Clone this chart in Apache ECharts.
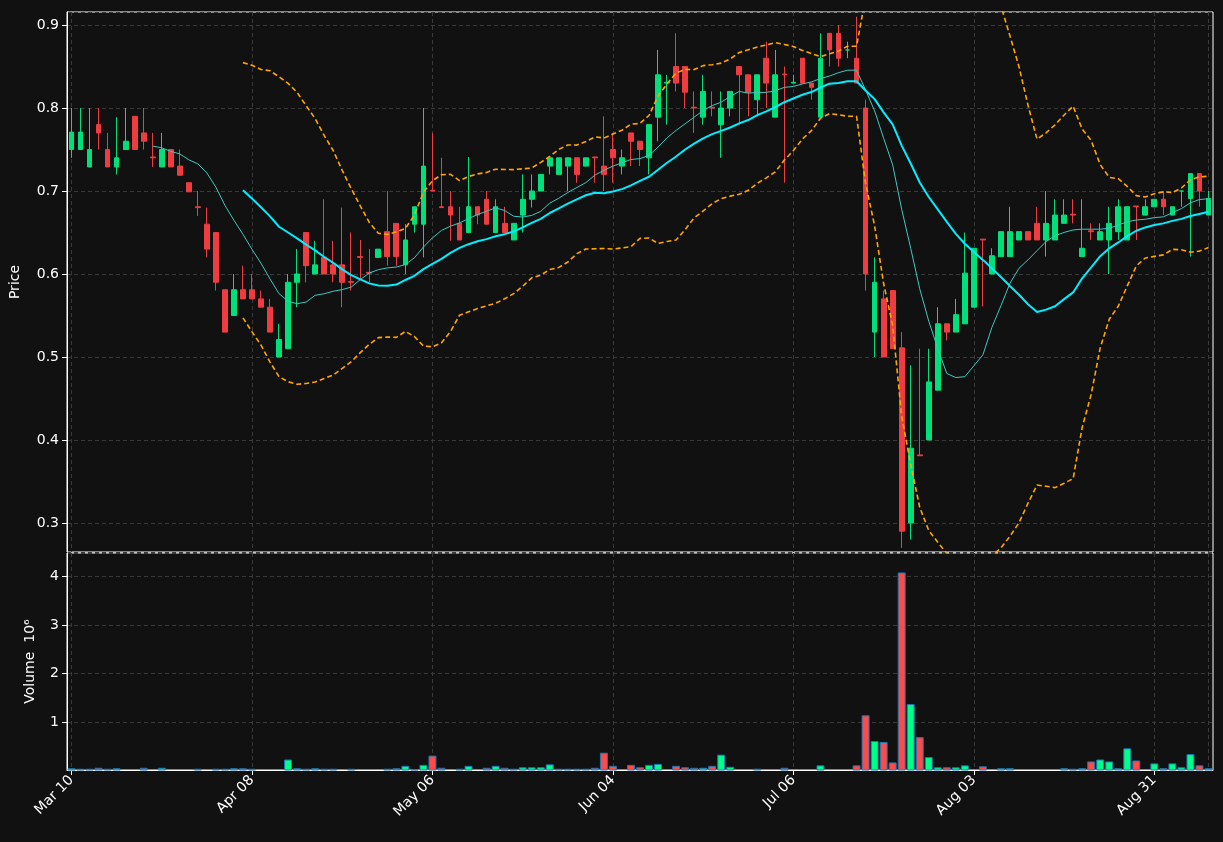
<!DOCTYPE html>
<html>
<head>
<meta charset="utf-8">
<script src="https://cdn.jsdelivr.net/npm/echarts@6/dist/echarts.min.js"></script>
<style>
  html, body { margin: 0; padding: 0; background: #111111; }
  #chart { width: 1223px; height: 842px; }
</style>
</head>
<body>
<div id="chart"></div>
<script>
const dates = [
  "Mar 10","Mar 11","Mar 12","Mar 15","Mar 16","Mar 17","Mar 18","Mar 19","Mar 22","Mar 23",
  "Mar 24","Mar 25","Mar 26","Mar 29","Mar 30","Mar 31","Apr 01","Apr 05","Apr 06","Apr 07",
  "Apr 08","Apr 09","Apr 12","Apr 13","Apr 14","Apr 15","Apr 16","Apr 19","Apr 20","Apr 21",
  "Apr 22","Apr 23","Apr 26","Apr 27","Apr 28","Apr 29","Apr 30","May 03","May 04","May 05",
  "May 06","May 07","May 10","May 11","May 12","May 13","May 14","May 17","May 18","May 19",
  "May 20","May 21","May 24","May 25","May 26","May 27","May 28","Jun 01","Jun 02","Jun 03",
  "Jun 04","Jun 07","Jun 08","Jun 09","Jun 10","Jun 11","Jun 14","Jun 15","Jun 16","Jun 17",
  "Jun 21","Jun 22","Jun 23","Jun 24","Jun 25","Jun 28","Jun 29","Jun 30","Jul 01","Jul 02",
  "Jul 06","Jul 07","Jul 08","Jul 09","Jul 12","Jul 13","Jul 14","Jul 15","Jul 16","Jul 19",
  "Jul 20","Jul 21","Jul 22","Jul 23","Jul 26","Jul 27","Jul 28","Jul 29","Jul 30","Aug 02",
  "Aug 03","Aug 04","Aug 05","Aug 06","Aug 09","Aug 10","Aug 11","Aug 12","Aug 13","Aug 16",
  "Aug 17","Aug 18","Aug 19","Aug 20","Aug 23","Aug 24","Aug 25","Aug 26","Aug 27","Aug 30",
  "Aug 31","Sep 01","Sep 02","Sep 03","Sep 07","Sep 08","Sep 09"
];

const opens = [
  .750,.750,.729,.780,.750,.729,.750,.790,.770,.741,.729,.750,.730,.710,.681,.660,.650,.581,.550,.581,
  .581,.570,.560,.500,.510,.590,.650,.600,.620,.611,.611,.591,.621,.602,.620,.651,.661,.611,.660,.660,
  .701,.681,.681,.661,.650,.681,.690,.650,.661,.641,.671,.690,.700,.730,.720,.730,.740,.730,.741,.730,
  .750,.730,.770,.760,.740,.789,.830,.850,.850,.801,.789,.801,.780,.800,.850,.840,.810,.860,.789,.841,
  .830,.860,.830,.789,.890,.890,.870,.860,.800,.530,.570,.580,.511,.300,.382,.400,.460,.540,.530,.540,
  .560,.642,.600,.621,.621,.641,.651,.661,.641,.641,.661,.672,.621,.652,.641,.641,.651,.641,.682,.671,
  .681,.690,.671,.700,.691,.721,.671
];
const closes = [
  .771,.771,.750,.770,.729,.740,.760,.750,.760,.740,.750,.729,.719,.699,.680,.630,.590,.530,.581,.570,
  .570,.560,.530,.521,.590,.600,.610,.611,.600,.600,.590,.590,.620,.601,.630,.621,.621,.641,.681,.730,
  .700,.680,.671,.641,.681,.671,.660,.681,.650,.661,.690,.700,.720,.740,.740,.740,.720,.740,.740,.720,
  .740,.740,.760,.750,.780,.840,.831,.830,.819,.800,.820,.800,.800,.820,.840,.819,.840,.830,.840,.840,
  .831,.830,.825,.860,.870,.860,.870,.830,.600,.590,.500,.510,.290,.390,.381,.470,.540,.530,.551,.601,
  .631,.641,.622,.651,.651,.651,.641,.641,.661,.671,.671,.671,.631,.651,.651,.661,.681,.681,.681,.681,
  .690,.681,.681,.700,.721,.700,.691
];
const lows = [
  .740,.750,.729,.750,.729,.720,.750,.750,.750,.729,.729,.729,.719,.699,.670,.620,.580,.530,.550,.570,
  .570,.560,.530,.500,.510,.560,.590,.600,.600,.590,.560,.580,.594,.590,.620,.610,.610,.600,.650,.620,
  .700,.680,.640,.641,.650,.660,.660,.650,.650,.641,.650,.680,.700,.720,.720,.700,.710,.730,.710,.700,
  .710,.720,.730,.730,.720,.760,.780,.820,.800,.770,.780,.790,.740,.790,.780,.790,.790,.800,.789,.710,
  .830,.830,.810,.789,.850,.850,.860,.830,.580,.500,.500,.510,.270,.280,.381,.400,.460,.520,.530,.540,
  .560,.561,.600,.621,.621,.641,.641,.641,.621,.641,.661,.661,.621,.641,.641,.600,.641,.641,.641,.671,
  .681,.671,.671,.681,.621,.681,.671
];
const highs = [
  .800,.800,.800,.800,.770,.789,.800,.790,.800,.770,.770,.750,.750,.710,.700,.680,.650,.581,.600,.610,
  .600,.580,.570,.540,.600,.630,.650,.640,.690,.640,.680,.650,.641,.630,.630,.700,.661,.660,.681,.800,
  .770,.740,.700,.681,.741,.681,.700,.690,.681,.661,.720,.720,.720,.740,.740,.740,.740,.740,.740,.790,
  .770,.750,.770,.760,.780,.870,.840,.890,.850,.820,.840,.820,.820,.820,.850,.840,.840,.880,.870,.850,
  .840,.860,.830,.890,.890,.900,.880,.910,.810,.620,.580,.580,.530,.490,.510,.510,.560,.540,.570,.650,
  .631,.642,.631,.651,.681,.651,.651,.681,.700,.690,.690,.690,.690,.661,.661,.681,.690,.681,.681,.690,
  .690,.700,.681,.700,.721,.721,.700
];
// volume in millions
const volumes = [
  .05,.04,.04,.06,.04,.05,.02,.02,.06,.02,.06,.02,.02,.01,.04,.02,.04,.04,.05,.05,
  .04,.01,.02,.02,.23,.05,.04,.05,.04,.04,.02,.04,.02,.02,.02,.04,.05,.10,.03,.12,
  .31,.06,.02,.04,.10,.02,.06,.10,.06,.04,.07,.07,.07,.13,.04,.04,.04,.04,.06,.37,
  .10,.02,.12,.07,.12,.14,.01,.10,.07,.06,.06,.10,.33,.08,.02,.01,.04,.02,.02,.06,
  .02,.02,.01,.11,.02,.01,.01,.11,1.14,.61,.59,.17,4.08,1.37,.69,.28,.07,.07,.07,.11,
  .01,.09,.02,.05,.05,.01,.01,.02,.02,.02,.05,.04,.05,.19,.23,.19,.05,.46,.21,.01,
  .15,.05,.15,.07,.34,.11,.05
];

const UP = "#00e07a", DOWN = "#ee3c40";
const VUP = "#00ff88", VDOWN = "#ff4a4a";

function movingAvg(n) {
  return closes.map((c, i) => {
    if (i < n - 1) return "-";
    let s = 0;
    for (let k = i - n + 1; k <= i; k++) s += closes[k];
    return +(s / n).toFixed(4);
  });
}
function band(n, mult) {
  return closes.map((c, i) => {
    if (i < n - 1) return "-";
    const win = closes.slice(i - n + 1, i + 1);
    const m = win.reduce((a, b) => a + b) / n;
    const v = win.reduce((a, b) => a + (b - m) * (b - m), 0) / (n - 1);
    return +(m + mult * Math.sqrt(v)).toFixed(4);
  });
}

const ma10 = movingAvg(10);
const ma20 = movingAvg(20);
const bbUp = band(20, 2);
const bbLow = band(20, -2);

const candleData = dates.map((d, i) => [opens[i], closes[i], lows[i], highs[i]]);
const volData = volumes.map((v, i) => ({
  value: v,
  itemStyle: { color: closes[i] >= opens[i] ? VUP : VDOWN }
}));

const chart = echarts.init(document.getElementById("chart"));
const fontFamily = "DejaVu Sans";
const gridLine = { show: true, lineStyle: { color: "#3a3a3a", type: [4, 3], width: 1 } };

// half a category band, so the overlay tick axes sit on candle centres
const plotW = 1223 - 67 - 10;
const half = plotW / dates.length / 2;

const hiddenCat = {
  type: "category", data: dates, boundaryGap: true,
  axisLine: { show: false }, axisTick: { show: false }, axisLabel: { show: false }, splitLine: { show: false }
};
const tickAxis = (gridIndex, labels) => ({
  type: "value", gridIndex, min: 0, max: dates.length - 1, interval: 20,
  axisLine: { show: false },
  axisTick: { show: labels, lineStyle: { color: "#ffffff" } },
  axisLabel: labels
    ? { show: true, rotate: 45, color: "#ffffff", fontSize: 14, fontFamily, margin: 8,
        showMaxLabel: false, formatter: v => dates[v] || "" }
    : { show: false },
  splitLine: gridLine
});
const hiddenY = gridIndex => ({
  type: "value", gridIndex, min: 0, max: 1, show: false, splitLine: { show: false }
});

chart.setOption({
  backgroundColor: "#111111",
  animation: false,
  textStyle: { fontFamily },
  grid: [
    { left: 67, right: 10, top: 12, height: 540, show: true, borderColor: "#ffffff", borderWidth: 1 },
    { left: 67, right: 10, top: 553, height: 217, show: true, borderColor: "#ffffff", borderWidth: 1 },
    { left: 67 + half, right: 10 + half, top: 12, height: 540 },
    { left: 67 + half, right: 10 + half, top: 553, height: 217 }
  ],
  xAxis: [
    { ...hiddenCat, gridIndex: 0 },
    { ...hiddenCat, gridIndex: 1, axisLine: { show: true, lineStyle: { color: "#ffffff" } } },
    tickAxis(2, false),
    tickAxis(3, true)
  ],
  yAxis: [
    {
      type: "value", gridIndex: 0, min: 0.265, max: 0.9157,
      minInterval: 0.1, maxInterval: 0.1,
      name: "Price", nameLocation: "middle", nameGap: 45, nameRotate: 90,
      nameTextStyle: { color: "#ffffff", fontSize: 14, fontFamily },
      axisLine: { show: true, lineStyle: { color: "#ffffff" } },
      axisTick: { show: true, lineStyle: { color: "#ffffff" } },
      axisLabel: { color: "#ffffff", fontSize: 14, fontFamily, showMinLabel: false, showMaxLabel: false,
        formatter: v => v.toFixed(1) },
      splitLine: gridLine
    },
    {
      type: "value", gridIndex: 1, min: 0.014, max: 4.48,
      minInterval: 1, maxInterval: 1,
      name: "Volume  10⁶", nameLocation: "middle", nameGap: 30, nameRotate: 90,
      nameTextStyle: { color: "#ffffff", fontSize: 14, fontFamily },
      axisLine: { show: true, lineStyle: { color: "#ffffff" } },
      axisTick: { show: true, lineStyle: { color: "#ffffff" } },
      axisLabel: { color: "#ffffff", fontSize: 14, fontFamily, showMinLabel: false, showMaxLabel: false },
      splitLine: gridLine
    },
    hiddenY(2),
    hiddenY(3)
  ],
  series: [
    {
      type: "candlestick", xAxisIndex: 0, yAxisIndex: 0, data: candleData,
      barWidth: "58%",
      itemStyle: { color: UP, color0: DOWN, borderColor: UP, borderColor0: DOWN, borderWidth: 1 }
    },
    {
      type: "line", xAxisIndex: 0, yAxisIndex: 0, data: ma10, symbol: "none",
      lineStyle: { color: "#3cc9c0", width: 1 }
    },
    {
      type: "line", xAxisIndex: 0, yAxisIndex: 0, data: ma20, symbol: "none",
      lineStyle: { color: "#00eeff", width: 2 }
    },
    {
      type: "line", xAxisIndex: 0, yAxisIndex: 0, data: bbUp, symbol: "none",
      lineStyle: { color: "#ffa500", width: 1.6, type: [5, 3] }
    },
    {
      type: "line", xAxisIndex: 0, yAxisIndex: 0, data: bbLow, symbol: "none",
      lineStyle: { color: "#ffa500", width: 1.6, type: [5, 3] }
    },
    {
      type: "bar", xAxisIndex: 1, yAxisIndex: 1, data: volData,
      barWidth: "88%",
      itemStyle: { borderColor: "#1f77b4", borderWidth: 1 }
    }
  ]
});
</script>
</body>
</html>
